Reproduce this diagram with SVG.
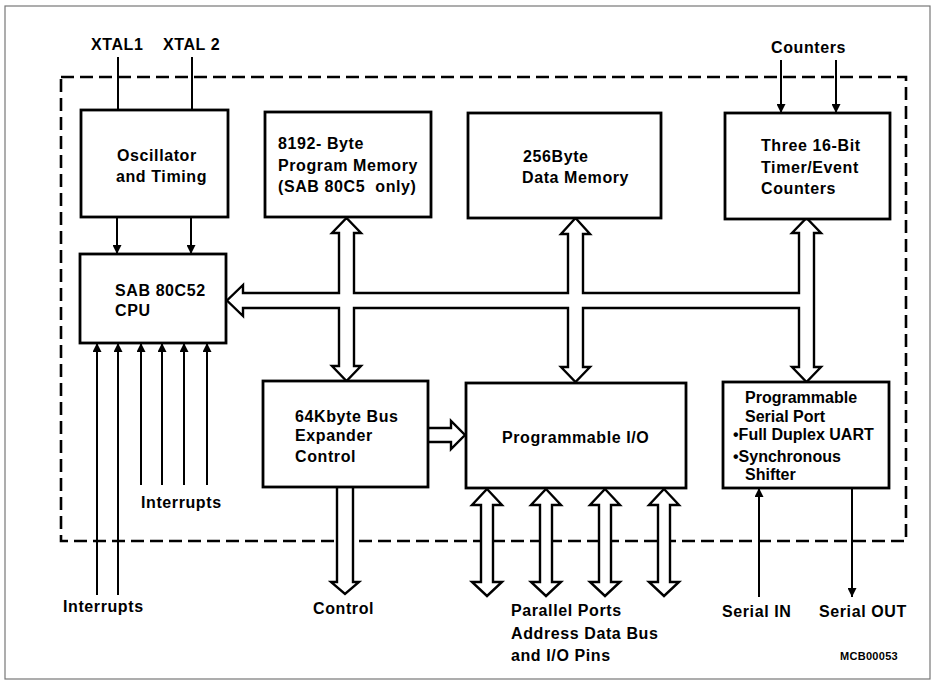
<svg xmlns="http://www.w3.org/2000/svg" width="934" height="682" viewBox="0 0 934 682">
<style>
  text { font-family: "Liberation Sans", Arial, sans-serif; font-weight: bold; font-size: 16px; letter-spacing: 0.6px; fill: #000; }
  .box { fill: #fff; stroke: #000; stroke-width: 2.8; }
  .wire { fill: none; stroke: #000; stroke-width: 2; }
  .bus { fill: #fff; stroke: #000; stroke-width: 2.4; stroke-linejoin: miter; }
  .tight { letter-spacing: 0px; }
  .small { font-size: 11px; letter-spacing: 0.3px; }
</style>
<defs>
  <marker id="ah" viewBox="0 0 10 10" refX="10" refY="5" markerWidth="10" markerHeight="9" markerUnits="userSpaceOnUse" orient="auto">
    <path d="M0,0 L10,5 L0,10 Z" fill="#000"/>
  </marker>
</defs>
<rect width="934" height="682" fill="#fff"/>
<g id="frame">
  <rect x="5" y="6" width="925" height="673" fill="none" stroke="#777" stroke-width="1.2"/>
  <rect x="61" y="77" width="845" height="464" fill="none" stroke="#000" stroke-width="2.6" stroke-dasharray="13 6"/>
</g>
<g id="connectors">
  <line class="wire" x1="118" y1="57" x2="118" y2="110"/>
  <line class="wire" x1="192" y1="57" x2="192" y2="110"/>
  <line class="wire" x1="117" y1="217" x2="117" y2="254" marker-end="url(#ah)"/>
  <line class="wire" x1="191" y1="217" x2="191" y2="254" marker-end="url(#ah)"/>
  <line class="wire" x1="781" y1="60" x2="781" y2="113" marker-end="url(#ah)"/>
  <line class="wire" x1="836" y1="60" x2="836" y2="113" marker-end="url(#ah)"/>
  <line class="wire" x1="97" y1="595" x2="97" y2="343" marker-end="url(#ah)"/>
  <line class="wire" x1="118" y1="595" x2="118" y2="343" marker-end="url(#ah)"/>
  <line class="wire" x1="141" y1="485" x2="141" y2="343" marker-end="url(#ah)"/>
  <line class="wire" x1="162" y1="485" x2="162" y2="343" marker-end="url(#ah)"/>
  <line class="wire" x1="184" y1="485" x2="184" y2="343" marker-end="url(#ah)"/>
  <line class="wire" x1="207" y1="485" x2="207" y2="343" marker-end="url(#ah)"/>
  <line class="wire" x1="759" y1="597" x2="759" y2="488" marker-end="url(#ah)"/>
  <line class="wire" x1="852" y1="488" x2="852" y2="597" marker-end="url(#ah)"/>
  <path class="bus" d="M243,293 H339 V233 H332 L346.5,218 L361,233 H354 V293 H568 V234 H561 L575.5,218 L590,234 H583 V293 H799 V233 H792 L806.5,218 L821,233 H814 V367 H821 L806.5,382 L792,367 H799 V308 H583 V367 H590 L575.5,382 L561,367 H568 V308 H354 V366 H361 L346.5,381 L332,366 H339 V308 H243 V316 L227,300.5 L243,285 Z"/>
  <path class="bus" d="M428,428 H451 V421 L465,435 L451,449 V442 H428"/>
  <path class="bus" d="M337,487 V582 H331 L345,594 L359,582 H353 V487"/>
  <path class="bus" d="M487,489 L502,505 H493 V582 H502 L487,596 L472,582 H481 V505 H472 Z"/>
  <path class="bus" d="M546,489 L561,505 H552 V582 H561 L546,596 L531,582 H540 V505 H531 Z"/>
  <path class="bus" d="M605,489 L620,505 H611 V582 H620 L605,596 L590,582 H599 V505 H590 Z"/>
  <path class="bus" d="M664,489 L679,505 H670 V582 H679 L664,596 L649,582 H658 V505 H649 Z"/>
</g>
<g id="osc">
  <rect class="box" x="81" y="110" width="147" height="107"/>
  <text x="117" y="161">Oscillator</text>
  <text x="116" y="182">and Timing</text>
</g>
<g id="cpu">
  <rect class="box" x="80" y="254" width="146" height="89"/>
  <text x="115" y="296">SAB 80C52</text>
  <text x="115" y="316">CPU</text>
</g>
<g id="progmem">
  <rect class="box" x="265" y="112" width="166" height="105"/>
  <text x="278" y="149">8192- Byte</text>
  <text x="278" y="171">Program Memory</text>
  <text x="278" y="192" xml:space="preserve">(SAB 80C5  only)</text>
</g>
<g id="datamem">
  <rect class="box" x="468" y="113" width="193" height="105"/>
  <text x="523" y="162">256Byte</text>
  <text x="522" y="183">Data Memory</text>
</g>
<g id="timer">
  <rect class="box" x="725" y="113" width="165" height="106"/>
  <text x="761" y="151">Three 16-Bit</text>
  <text x="761" y="173">Timer/Event</text>
  <text x="761" y="194">Counters</text>
</g>
<g id="busexp">
  <rect class="box" x="263" y="381" width="165" height="106"/>
  <text x="295" y="422">64Kbyte Bus</text>
  <text x="295" y="441">Expander</text>
  <text x="295" y="462">Control</text>
</g>
<g id="pio">
  <rect class="box" x="466" y="383" width="220" height="105"/>
  <text x="502" y="443">Programmable I/O</text>
</g>
<g id="serial">
  <rect class="box" x="723" y="382" width="166" height="106"/>
  <text x="745" y="403" class="tight">Programmable</text>
  <text x="745" y="422" class="tight">Serial Port</text>
  <text x="733" y="440" class="tight">•Full Duplex UART</text>
  <text x="733" y="462" class="tight">•Synchronous</text>
  <text x="745" y="480" class="tight">Shifter</text>
</g>
<g id="labels">
  <text x="91" y="50">XTAL1</text>
  <text x="163" y="50">XTAL 2</text>
  <text x="771" y="53">Counters</text>
  <text x="141" y="508">Interrupts</text>
  <text x="63" y="612">Interrupts</text>
  <text x="313" y="614">Control</text>
  <text x="511" y="616">Parallel Ports</text>
  <text x="511" y="639">Address Data Bus</text>
  <text x="511" y="661">and I/O Pins</text>
  <text x="722" y="617">Serial IN</text>
  <text x="819" y="617">Serial OUT</text>
  <text x="840" y="660" class="small">MCB00053</text>
</g>
</svg>
